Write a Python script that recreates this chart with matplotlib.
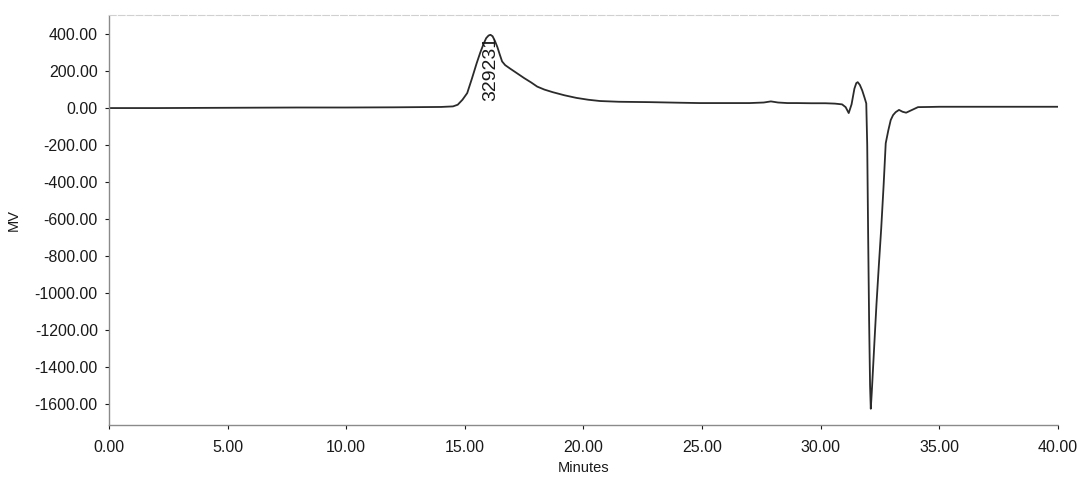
import matplotlib
matplotlib.use("Agg")
import matplotlib.pyplot as plt

plt.rcParams['font.family'] = ['Liberation Sans', 'DejaVu Sans']

# Detector trace (time in minutes, signal in MV)
time_min = [0.0, 2.0, 4.0, 6.0, 8.0, 10.0, 12.0, 13.0, 14.0, 14.5, 14.7, 14.9,
            15.1, 15.3, 15.5, 15.65, 15.8, 15.9, 16.0, 16.08, 16.17, 16.27,
            16.37, 16.47, 16.57, 16.7, 16.9, 17.2, 17.5, 17.8, 18.05, 18.35,
            18.7, 19.2, 19.7, 20.2, 20.7, 21.5, 22.8, 24.0, 24.9, 26.0, 27.0,
            27.6, 27.9, 28.2, 28.6, 29.0, 29.6, 30.2, 30.6, 30.9, 31.05, 31.18,
            31.3, 31.42, 31.5, 31.56, 31.65, 31.75, 31.85, 31.92, 31.96, 32.0,
            32.04, 32.08, 32.11, 32.15, 32.2, 32.27, 32.35, 32.45, 32.55, 32.65,
            32.74, 32.85, 32.95, 33.05, 33.16, 33.3, 33.45, 33.6, 33.85, 34.1,
            34.6, 35.0, 36.0, 38.0, 40.0]
signal_mv = [0, 0, 1, 2, 3, 3, 4, 5, 6, 9, 18, 45,
             81, 160, 243, 300, 350, 378, 392, 396, 388, 362,
             330, 290, 252, 232, 214, 188, 162, 138, 116, 100,
             86, 69, 55, 45, 38, 34, 32, 29, 27, 27, 27,
             30, 36, 30, 27, 27, 26, 26, 24, 20, 5, -27,
             20, 105, 135, 140, 125, 95, 55, 25, -200, -700,
             -1150, -1500, -1625, -1540, -1420, -1250, -1060, -850, -650, -420,
             -190, -120, -65, -38, -22, -10, -20, -25, -10, 5,
             6, 7, 7, 7, 7]

peak_label = "329231"
peak_label_time = 16.1
peak_label_mv = 215

x_ticks = [0, 5, 10, 15, 20, 25, 30, 35, 40]
y_ticks = [400, 200, 0, -200, -400, -600, -800, -1000, -1200, -1400, -1600]

fig = plt.figure(figsize=(10.8, 4.79), dpi=100)
ax = fig.add_axes([0.1009, 0.1127, 0.8787, 0.856])

ax.plot(time_min, signal_mv, color='#2b2b2b', lw=1.3, solid_joinstyle='round')

ax.text(peak_label_time, peak_label_mv, peak_label, rotation=90, ha='center',
        va='center', fontsize=14, color='#1a1a1a')

ax.set_xlim(0, 40)
ax.set_ylim(-1713, 503)
ax.set_xticks(x_ticks)
ax.set_xticklabels([f"{v:.2f}" for v in x_ticks])
ax.set_yticks(y_ticks)
ax.set_yticklabels([f"{v:.2f}" for v in y_ticks])

ax.tick_params(axis='both', labelsize=11.5, colors='#1a1a1a', length=3,
               width=0.8, direction='out')
ax.tick_params(axis='x', pad=8)
ax.tick_params(axis='y', pad=5)

for side in ['left', 'bottom']:
    ax.spines[side].set_color('#8a8a8a')
    ax.spines[side].set_linewidth(1.0)
    ax.spines[side].set_linestyle((0, (3, 1)))
ax.spines['top'].set_color('#d0d0d0')
ax.spines['top'].set_linestyle((0, (6, 2)))
ax.spines['top'].set_linewidth(0.8)
ax.spines['right'].set_visible(False)

ax.set_xlabel("Minutes", fontsize=10.5, color='#1a1a1a', labelpad=4)
ax.set_ylabel("MV", fontsize=10.5, color='#1a1a1a', labelpad=10)

fig.savefig("out.png", dpi=100, facecolor='white')
